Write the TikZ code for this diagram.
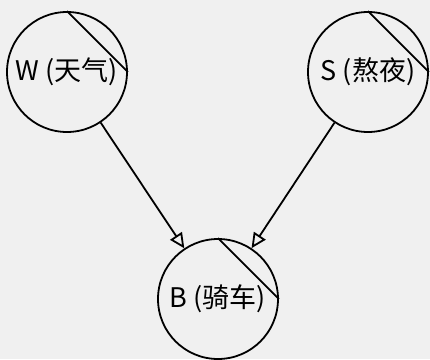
\documentclass[tikz,border=0pt]{standalone}
\usepackage{fontspec}
\setmainfont{Noto Sans CJK SC}
\usetikzlibrary{arrows.meta}
\definecolor{bg}{RGB}{240,240,240}
\tikzset{
  var/.style={circle, draw, line width=1.8pt, minimum size=120pt, inner sep=0pt, font=\fontsize{27}{32}\selectfont},
  chord/.style={line width=1.8pt},
  dep/.style={line width=1.8pt, -{Triangle[open, length=15pt, width=14pt, line width=1.8pt]}, shorten >=0pt}
}
\begin{document}
\begin{tikzpicture}[x=1pt, y=-1pt]
\fill[bg] (0,0) rectangle (430,359);
\useasboundingbox (0,0) rectangle (430,359);
\node[var] (W) at (67,72) {W (天气)};
\node[var] (S) at (368,72) {S (熬夜)};
\node[var] (B) at (218,299) {B (骑车)};
\draw[chord] (W.north) -- (W.east);
\draw[chord] (S.north) -- (S.east);
\draw[chord] (B.north) -- (B.east);
\draw[dep] (W) -- (B);
\draw[dep] (S) -- (B);
\end{tikzpicture}
\end{document}
